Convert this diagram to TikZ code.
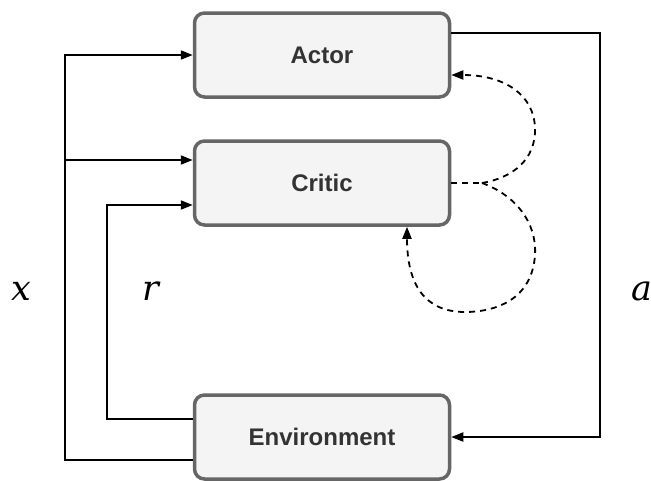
\documentclass[tikz,border=0pt]{standalone}
\usepackage{fontspec}
\setmainfont{Liberation Sans}
\newfontfamily\mathserif{DejaVu Serif}
\usetikzlibrary{arrows.meta}
\definecolor{boxfill}{HTML}{F4F4F4}
\definecolor{boxline}{HTML}{666666}
\definecolor{boxtext}{HTML}{333333}
\tikzset{
  box/.style={draw=boxline, fill=boxfill, line width=3.5pt, rounded corners=10pt,
    minimum width=255pt, minimum height=84pt, inner sep=0pt,
    font=\fontsize{24}{28}\selectfont\bfseries, text=boxtext},
  arr/.style={line width=1.8pt, -{Triangle[length=12pt,width=9pt]}},
  dashline/.style={line width=1.8pt, dash pattern=on 6pt off 5pt},
  dasharr/.style={dashline, -{Triangle[length=12pt,width=9pt]}},
  lbl/.style={font=\mathserif\itshape\fontsize{35}{40}\selectfont, inner sep=0pt}
}
\begin{document}
\begin{tikzpicture}[x=1pt,y=-1pt]
\useasboundingbox (0,0) rectangle (651,480);
\node[box] (actor) at (322,55) {Actor};
\node[box] (critic) at (322,183) {Critic};
\node[box] (env) at (322,437) {Environment};
% x path
\draw[arr] ([yshift=-23pt]env.west) -- ++(-128,0) coordinate (xc) |- (actor.west);
\coordinate (xb) at (xc |- 0,160);
\draw[arr] (xb) -- ([yshift=23pt]critic.west);
% r path
\draw[arr] ([yshift=18pt]env.west) -- ++(-86,0) |- ([yshift=-22pt]critic.west);
% a path
\draw[arr] ([yshift=22pt]actor.east) -- ++(149,0) |- (env.east);
% dashed feedback
\coordinate (split) at (482,183);
\draw[dashline] (critic.east) -- (split);
\draw[dasharr] (split) .. controls (512,178) and (536,160) .. (535,128)
  .. controls (534,95) and (505,75) .. ([yshift=-20pt]actor.east);
\draw[dasharr] (split) .. controls (515,195) and (537,222) .. (535,255)
  .. controls (532,300) and (495,312) .. (465,312)
  .. controls (425,312) and (407,285) .. ([xshift=85pt]critic.south);
% labels
\node[lbl] (lx) at (21,291) {x};
\node[lbl] (lr) at (151,291) {r};
\node[lbl] (la) at (642,291) {a};
\end{tikzpicture}
\end{document}
